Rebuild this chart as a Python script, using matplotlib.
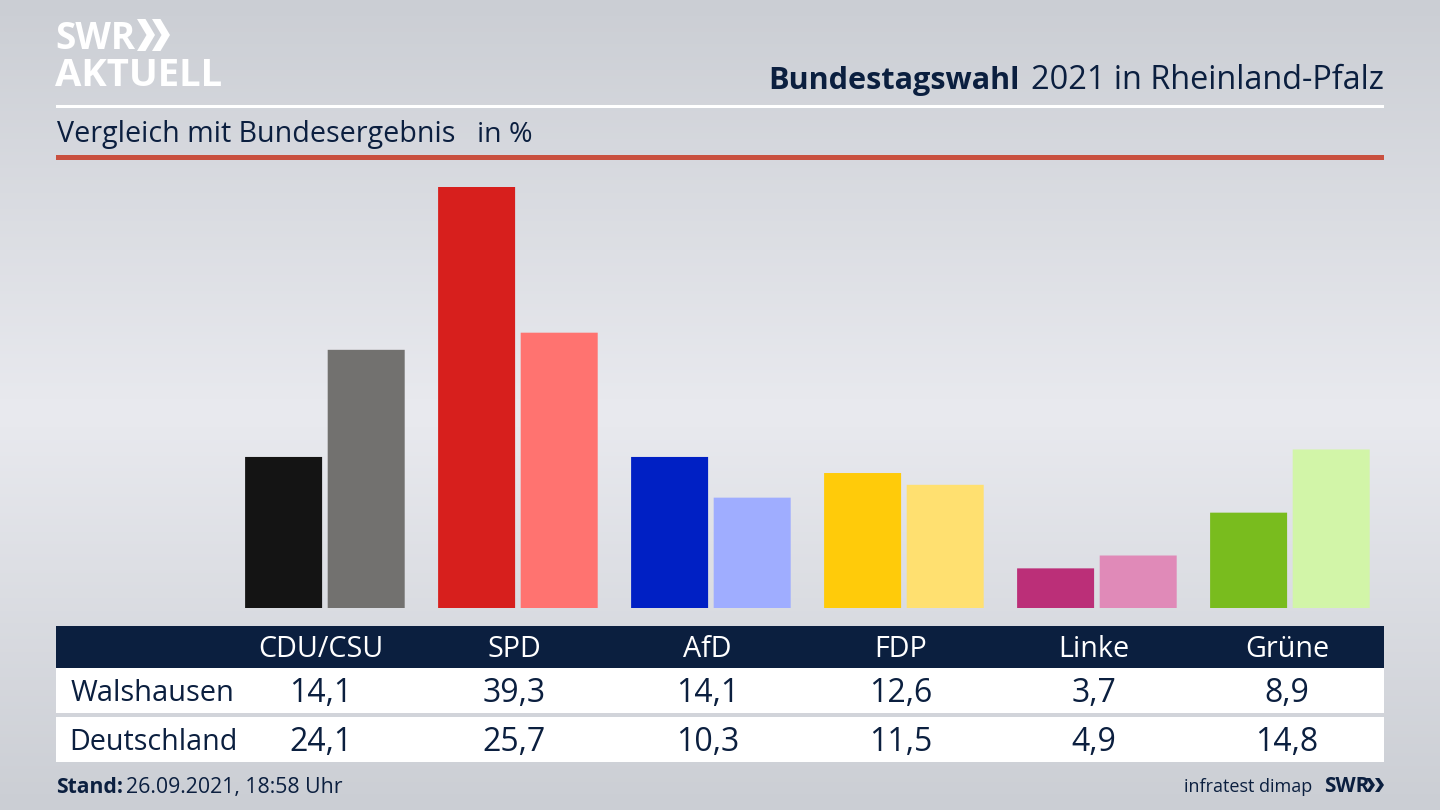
import numpy as np
import matplotlib
matplotlib.use("Agg")
import matplotlib.pyplot as plt
from matplotlib.patches import Rectangle, Polygon
from matplotlib.colors import LinearSegmentedColormap

parties = ["CDU/CSU", "SPD", "AfD", "FDP", "Linke", "Grüne"]
walshausen = [14.1, 39.3, 14.1, 12.6, 3.7, 8.9]
deutschland = [24.1, 25.7, 10.3, 11.5, 4.9, 14.8]
colors_local = ["#141414", "#d71f1d", "#0020c4", "#ffcb0a", "#bb2f78", "#79bc1e"]
colors_national = ["#72716f", "#ff7370", "#9fadff", "#ffe070", "#e08ab8", "#d2f5a8"]
row_names = ["Walshausen", "Deutschland"]
navy = "#0b1f3f"
plt.rcParams["font.family"] = ["Open Sans", "DejaVu Sans"]

W, H = 1440, 810
fig = plt.figure(figsize=(W / 100, H / 100), dpi=100)

# page layer, in pixel units
bg = fig.add_axes([0, 0, 1, 1])
cmap = LinearSegmentedColormap.from_list("bg", [(0, "#cbced4"), (0.51, "#e9eaef"), (1, "#cbced4")])
bg.imshow(np.linspace(0, 1, 256)[:, None], cmap=cmap, aspect="auto", extent=(0, W, H, 0), zorder=0)
bg.set_xlim(0, W); bg.set_ylim(H, 0); bg.axis("off")

def rect(x0, y0, x1, y1, c, z=1):
    bg.add_patch(Rectangle((x0, y0), x1 - x0, y1 - y0, fc=c, ec="none", zorder=z))

rect(56, 105, 1384, 108, "#ffffff")
rect(56, 155, 1384, 160, "#c9503f")
rect(56, 626, 1384, 668, navy)
rect(56, 668, 1384, 713, "#ffffff")
rect(56, 717, 1384, 762, "#ffffff")

def chevrons(x, y, h, w, gap, c, z=3):
    for i in range(2):
        x0 = x + i * gap
        t = w * 0.47
        bg.add_patch(Polygon([(x0, y), (x0 + t, y), (x0 + w, y + h / 2), (x0 + t, y + h), (x0, y + h), (x0 + w - t, y + h / 2)],
                             closed=True, fc=c, ec="none", zorder=z))

# logo
bg.text(55.5, 49, "SWR", color="white", fontsize=26.5, fontweight="bold", va="baseline", zorder=3)
chevrons(137, 19, 32, 18, 15, "white")
bg.text(55, 86, "AKTUELL", color="white", fontsize=27.5, fontweight="bold", va="baseline", zorder=3)

# titles
bg.text(1384, 89, "2021 in Rheinland-Pfalz", color=navy, fontsize=23.4, ha="right", va="baseline", zorder=3)
bg.text(1020, 89, "Bundestagswahl", color=navy, fontsize=22.1, fontweight="bold", ha="right", va="baseline", zorder=3)
bg.text(57, 142, "Vergleich mit Bundesergebnis", color=navy, fontsize=20.65, va="baseline", zorder=3)
bg.text(477, 142, "in %", color=navy, fontsize=20.5, va="baseline", zorder=3)

# table
centers = [321, 514, 707.5, 900.5, 1094, 1287]
for cx, p, a, b in zip(centers, parties, walshausen, deutschland):
    bg.text(cx, 657, p, color="white", fontsize=20.7, ha="center", va="baseline", zorder=3)
    bg.text(cx, 702, f"{a:.1f}".replace(".", ","), color=navy, fontsize=23, ha="center", va="baseline", zorder=3)
    bg.text(cx, 751, f"{b:.1f}".replace(".", ","), color=navy, fontsize=23, ha="center", va="baseline", zorder=3)
bg.text(71, 701, row_names[0], color=navy, fontsize=20.9, va="baseline", zorder=3)
bg.text(69.5, 750, row_names[1], color=navy, fontsize=20.7, va="baseline", zorder=3)

# footer
bg.text(56, 793, "Stand:", color=navy, fontsize=15.2, fontweight="bold", va="baseline", zorder=3)
bg.text(126, 793, "26.09.2021, 18:58 Uhr", color=navy, fontsize=15.35, va="baseline", zorder=3)
bg.text(1312, 792, "infratest dimap", color=navy, fontsize=13, ha="right", va="baseline", zorder=3)
bg.text(1324, 792, "SWR", color=navy, fontsize=15, fontweight="bold", va="baseline", zorder=3)
chevrons(1366, 778, 14, 9, 9, navy)

# bars, in data units
top, bottom = 160, 608
left, right = 210, 1384
ax = fig.add_axes([left / W, 1 - bottom / H, (right - left) / W, (bottom - top) / H])
ax.patch.set_alpha(0); ax.axis("off")
unit = 421 / 39.3
ax.set_ylim(0, (bottom - top) / unit)
spacing = 193
origin = 324.9
ax.set_xlim((left - origin) / spacing, (right - origin) / spacing)
x = np.arange(len(parties))
bw = 77 / spacing
off = 41.3 / spacing
ax.bar(x - off, walshausen, bw, color=colors_local, lw=0, snap=False)
ax.bar(x + off, deutschland, bw, color=colors_national, lw=0, snap=False)

fig.savefig("out.png", dpi=100)
